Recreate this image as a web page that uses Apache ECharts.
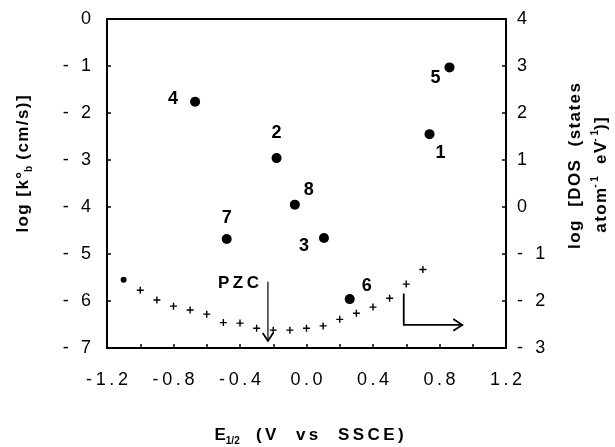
<!DOCTYPE html>
<html>
<head>
<meta charset="utf-8">
<script src="https://cdn.jsdelivr.net/npm/echarts@6/dist/echarts.min.js"></script>
<style>html,body{margin:0;padding:0;background:#fff}#main{width:615px;height:447px}</style>
</head>
<body>
<div id="main"></div>
<script>
// numbered complexes, log k°b vs E1/2 (left axis)
var kbIds = ['1', '2', '3', '4', '5', '6', '7', '8'];
var kbE   = [0.74, -0.18, 0.105, -0.67, 0.86, 0.26, -0.48, -0.07];
var kbLog = [-2.45, -2.96, -4.66, -1.76, -1.03, -5.96, -4.68, -3.95];
// where each number sits relative to its dot (px)
var kbLabelOffset = [[11, 19], [0, -25], [-20, 8], [-22, -3], [-14, 11], [17, -13], [0, -21], [14, -15]];

// density of states (right axis)
var dosE   = [-1.1, -1.0, -0.9, -0.8, -0.7, -0.6, -0.5, -0.4, -0.3, -0.2, -0.1, 0.0, 0.1, 0.2, 0.3, 0.4, 0.5, 0.6, 0.7];
var dosLog = [-1.55, -1.77, -1.98, -2.11, -2.19, -2.28, -2.46, -2.47, -2.58, -2.62, -2.62, -2.58, -2.53, -2.39, -2.26, -2.13, -1.94, -1.64, -1.33];

// tick labels
var xTickLabels = ['-1.2', '-0.8', '-0.4', '0.0', '0.4', '0.8', '1.2'];
var yLeftLabels = ['- 7', '- 6', '- 5', '- 4', '- 3', '- 2', '- 1', '0'];
var yRightLabels = ['- 3', '- 2', '- 1', '0', '1', '2', '3', '4'];

// annotation arrows (E, log k°b)
var pzcArrow = [[-0.232, -5.59], [-0.232, -6.85]];
var dosArrow = [[0.585, -5.84], [0.585, -6.51], [0.937, -6.51]];

var FONT = '"Liberation Sans", Arial, Helvetica, sans-serif';

// wide tracking like the original typesetting
function sp(s, gap) {
	return s.split('').join(gap || '\u2009');
}

var chart = echarts.init(document.getElementById('main'));

var arrows = [
	{ path: pzcArrow, head: 8, width: 1.2, text: 'PZC' },
	{ path: dosArrow, head: 9, width: 1.8, text: '' }
];

var tickStyle = { color: '#000', width: 1.5 };

option = {
	backgroundColor: '#fff',
	animation: false,
	grid: {
		left: 107, right: 109, top: 19, bottom: 99,
		show: true,
		borderColor: '#000',
		borderWidth: 2
	},
	xAxis: {
		type: 'value',
		min: -1.2, max: 1.2, interval: 0.4,
		axisLine: { onZero: false, lineStyle: { color: '#000', width: 2 } },
		axisTick: { inside: true, length: 4, lineStyle: tickStyle },
		minorTick: { show: true, splitNumber: 2, length: 4, lineStyle: tickStyle },
		splitLine: { show: false },
		axisLabel: {
			margin: 23,
			color: '#000',
			fontSize: 18,
			fontFamily: FONT,
			formatter: function (v) {
				return sp(xTickLabels[Math.round((v + 1.2) / 0.4)]);
			}
		}
	},
	yAxis: [{
		type: 'value',
		position: 'left',
		min: -7, max: 0, interval: 1,
		axisLine: { show: true, onZero: false, lineStyle: { color: '#000', width: 2 } },
		axisTick: { show: true, inside: true, length: 4, lineStyle: tickStyle },
		splitLine: { show: false },
		axisLabel: {
			margin: 16,
			color: '#000',
			fontSize: 18,
			fontFamily: FONT,
			formatter: function (v) {
				return sp(yLeftLabels[Math.round(v + 7)]);
			}
		}
	}, {
		type: 'value',
		position: 'right',
		min: -3, max: 4, interval: 1,
		axisLine: { show: true, onZero: false, lineStyle: { color: '#000', width: 2 } },
		axisTick: { show: true, inside: true, length: 4, lineStyle: tickStyle },
		splitLine: { show: false },
		axisLabel: {
			margin: 11,
			color: '#000',
			fontSize: 18,
			fontFamily: FONT,
			formatter: function (v) {
				return sp(yRightLabels[Math.round(v + 3)]);
			}
		}
	}],
	graphic: [{
		type: 'text',
		x: 23, y: 164,
		rotation: Math.PI / 2,
		style: {
			text: sp('log [k°', '\u200A') + '{sub|b}' + sp(' (cm/s)]', '\u200A'),
			font: 'bold 17px ' + FONT,
			fill: '#000',
			align: 'center',
			verticalAlign: 'middle',
			lineHeight: 22,
			rich: {
				sub: { fontSize: 10, fontWeight: 'bold', fontFamily: FONT, verticalAlign: 'bottom', lineHeight: 22 }
			}
		}
	}, {
		type: 'text',
		x: 575, y: 166,
		rotation: Math.PI / 2,
		style: {
			text: sp('log  [DOS  (states', '\u200A'),
			font: 'bold 17px ' + FONT,
			fill: '#000',
			align: 'center',
			verticalAlign: 'middle'
		}
	}, {
		type: 'text',
		x: 601, y: 175,
		rotation: Math.PI / 2,
		style: {
			text: sp('atom', '\u200A') + '{sup|- 1}' + sp('  eV', '\u200A') + '{sup|- 1}' + sp(')]', '\u200A'),
			font: 'bold 17px ' + FONT,
			fill: '#000',
			align: 'center',
			verticalAlign: 'middle',
			lineHeight: 22,
			rich: {
				sup: { fontSize: 10, fontWeight: 'bold', fontFamily: FONT, verticalAlign: 'top', lineHeight: 22 }
			}
		}
	}, {
		type: 'text',
		x: 309, y: 435,
		style: {
			text: 'E{sub|1/2}' + sp('  (V  vs  SSCE)'),
			font: 'bold 17px ' + FONT,
			fill: '#000',
			align: 'center',
			verticalAlign: 'middle',
			lineHeight: 22,
			rich: {
				sub: { fontSize: 10, fontWeight: 'bold', fontFamily: FONT, verticalAlign: 'bottom', lineHeight: 22 }
			}
		}
	}],
	series: [{
		name: 'DOS',
		type: 'scatter',
		yAxisIndex: 1,
		symbol: 'path://M4,0h2v4h4v2h-4v4h-2v-4h-4v-2h4z',
		symbolSize: 7,
		itemStyle: { color: '#000', opacity: 1 },
		data: dosE.map(function (e, i) {
			var d = { value: [e, dosLog[i]] };
			if (i === 0) { d.symbol = 'circle'; d.symbolSize = 6; }
			return d;
		})
	}, {
		name: 'kb',
		type: 'scatter',
		yAxisIndex: 0,
		symbol: 'circle',
		symbolSize: 10,
		itemStyle: { color: '#000', opacity: 1 },
		label: {
			show: true,
			position: 'inside',
			color: '#000',
			textBorderWidth: 0,
			fontSize: 18,
			fontWeight: 'bold',
			fontFamily: FONT,
			formatter: function (p) { return kbIds[p.dataIndex]; }
		},
		data: kbE.map(function (e, i) {
			return { value: [e, kbLog[i]], label: { offset: kbLabelOffset[i] } };
		})
	}, {
		name: 'arrows',
		type: 'custom',
		yAxisIndex: 0,
		silent: true,
		data: arrows.map(function (a) { return a.path[0]; }),
		renderItem: function (params, api) {
			var a = arrows[params.dataIndex];
			var pts = a.path.map(function (p) { return api.coord(p); });
			var tip = pts[pts.length - 1], prev = pts[pts.length - 2];
			var dx = tip[0] - prev[0], dy = tip[1] - prev[1];
			var len = Math.sqrt(dx * dx + dy * dy);
			var ux = dx / len, uy = dy / len;
			var h = a.head, w = a.head * 0.65;
			var head = [
				[tip[0] - ux * h - uy * w, tip[1] - uy * h + ux * w],
				tip,
				[tip[0] - ux * h + uy * w, tip[1] - uy * h - ux * w]
			];
			var children = [{
				type: 'polyline',
				shape: { points: pts },
				style: { stroke: '#000', lineWidth: a.width, fill: null }
			}, {
				type: 'polyline',
				shape: { points: head },
				style: { stroke: '#000', lineWidth: 1.8, fill: null }
			}];
			if (a.text) {
				children.push({
					type: 'text',
					x: pts[0][0] - 9,
					y: pts[0][1] + 2,
					style: {
						text: sp(a.text),
						font: 'bold 17px ' + FONT,
						fill: '#000',
						align: 'right',
						verticalAlign: 'middle'
					}
				});
			}
			return { type: 'group', children: children };
		}
	}]
};
chart.setOption(option);
</script>
</body>
</html>
